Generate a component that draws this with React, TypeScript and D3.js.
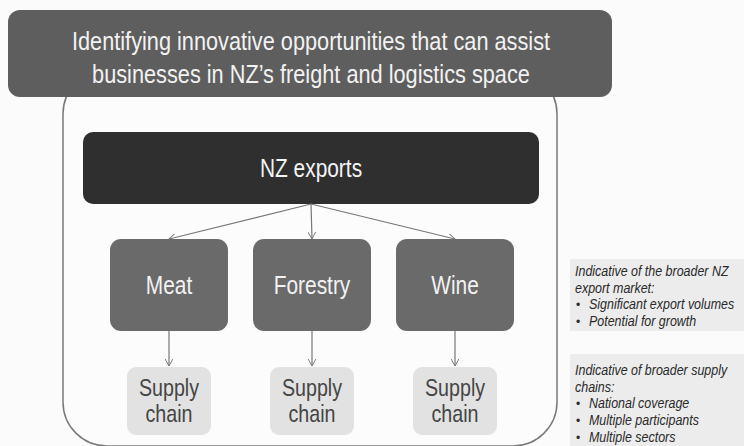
import React from "react";
import * as d3 from "d3";

const titleLines = [
  "Identifying innovative opportunities that can assist",
  "businesses in NZ\u2019s freight and logistics space",
];
const rootLabel = "NZ exports";
const categories = ["Meat", "Forestry", "Wine"];
const chainLines = ["Supply", "chain"];
const note1Head = ["Indicative of the broader NZ", "export market:"];
const note1Bullets = ["Significant export volumes", "Potential for growth"];
const note2Head = ["Indicative of broader supply", "chains:"];
const note2Bullets = ["National coverage", "Multiple participants", "Multiple sectors"];

const W = 744;
const H = 446;
const FONT = "'Liberation Sans', Arial, sans-serif";
const SX = 0.82;

type NProps = {
  x: number;
  y: number;
  size: number;
  fill: string;
  anchor?: "start" | "middle" | "end";
  italic?: boolean;
  children: React.ReactNode;
};

function NText({ x, y, size, fill, anchor = "start", italic = false, children }: NProps) {
  return (
    <g transform={`translate(${x},${y}) scale(${SX},1)`}>
      <text x={0} y={0} textAnchor={anchor} fontSize={size} fill={fill} fontFamily={FONT} fontStyle={italic ? "italic" : "normal"}>
        {children}
      </text>
    </g>
  );
}

export default function App() {
  const x = d3
    .scaleBand<string>()
    .domain(categories)
    .range([110, 514])
    .paddingInner(0.175)
    .paddingOuter(0);
  const bw = x.bandwidth();
  const rootCx = 311;
  const rootBottom = 204;
  const midTop = 239;
  const midBottom = 331;
  const scTop = 367;
  const scBottom = 435;
  const scW = 84;

  const noteLineH = 16.7;

  const renderNote = (head: string[], bullets: string[], boxY: number, boxH: number, firstBase: number) => (
    <g>
      <rect x={570} y={boxY} width={W - 570} height={boxH} fill="#ececec" />
      {head.map((t, i) => (
        <NText key={"h" + i} x={575} y={firstBase + i * noteLineH} size={15.2} fill="#2a2a2a" italic>
          {t}
        </NText>
      ))}
      {bullets.map((t, i) => (
        <g key={"b" + i}>
          <text x={576} y={firstBase + (head.length + i) * noteLineH} fontSize={12} fill="#2a2a2a" fontFamily={FONT}>
            {"\u2022"}
          </text>
          <NText x={589} y={firstBase + (head.length + i) * noteLineH} size={15.2} fill="#2a2a2a" italic>
            {t}
          </NText>
        </g>
      ))}
    </g>
  );

  return (
    <svg width={W} height={H} style={{ position: "absolute", left: 0, top: 0, background: "#fbfbfb" }}>
      <defs>
        <marker id="chev" viewBox="0 0 10 10" refX={9} refY={5} markerWidth={8} markerHeight={8} orient="auto" markerUnits="userSpaceOnUse">
          <path d="M0,0 L9,5 L0,10" fill="none" stroke="#777" strokeWidth={1.2} />
        </marker>
      </defs>
      <rect x={0} y={0} width={W} height={H} fill="#fbfbfb" />

      {/* container */}
      <rect x={63} y={70} width={494} height={376} rx={44} ry={44} fill="#fcfcfc" stroke="#7a7a7a" strokeWidth={1.5} />

      {/* title banner */}
      <rect x={8} y={10} width={604} height={87} rx={12} ry={12} fill="#5e5e5e" />
      {titleLines.map((t, i) => (
        <NText key={i} x={311} y={50 + i * 33} anchor="middle" size={26.5} fill="#f2f2f2">
          {t}
        </NText>
      ))}

      {/* root */}
      <rect x={83} y={132} width={456} height={rootBottom - 132} rx={10} ry={10} fill="#2f2f2f" />
      <NText x={rootCx} y={177} anchor="middle" size={25.5} fill="#f4f4f4">
        {rootLabel}
      </NText>

      {/* arrows root -> categories */}
      {categories.map((c) => {
        const cx = (x(c) as number) + bw / 2;
        return <line key={"a" + c} x1={rootCx} y1={rootBottom} x2={cx} y2={midTop} stroke="#777" strokeWidth={1.2} markerEnd="url(#chev)" />;
      })}

      {/* category boxes */}
      {categories.map((c) => {
        const x0 = x(c) as number;
        const cx = x0 + bw / 2;
        return (
          <g key={"m" + c}>
            <rect x={x0} y={midTop} width={bw} height={midBottom - midTop} rx={11} ry={11} fill="#6a6a6a" />
            <NText x={cx} y={294} anchor="middle" size={25.5} fill="#f2f2f2">
              {c}
            </NText>
            <line x1={cx} y1={midBottom} x2={cx} y2={scTop - 1} stroke="#777" strokeWidth={1.2} markerEnd="url(#chev)" />
            <rect x={cx - scW / 2} y={scTop} width={scW} height={scBottom - scTop} rx={9} ry={9} fill="#e2e2e2" />
            {chainLines.map((t, i) => (
              <NText key={i} x={cx} y={396 + i * 26} anchor="middle" size={24} fill="#454545">
                {t}
              </NText>
            ))}
          </g>
        );
      })}

      {renderNote(note1Head, note1Bullets, 259, 72, 276)}
      {renderNote(note2Head, note2Bullets, 354, 92, 375)}
    </svg>
  );
}
